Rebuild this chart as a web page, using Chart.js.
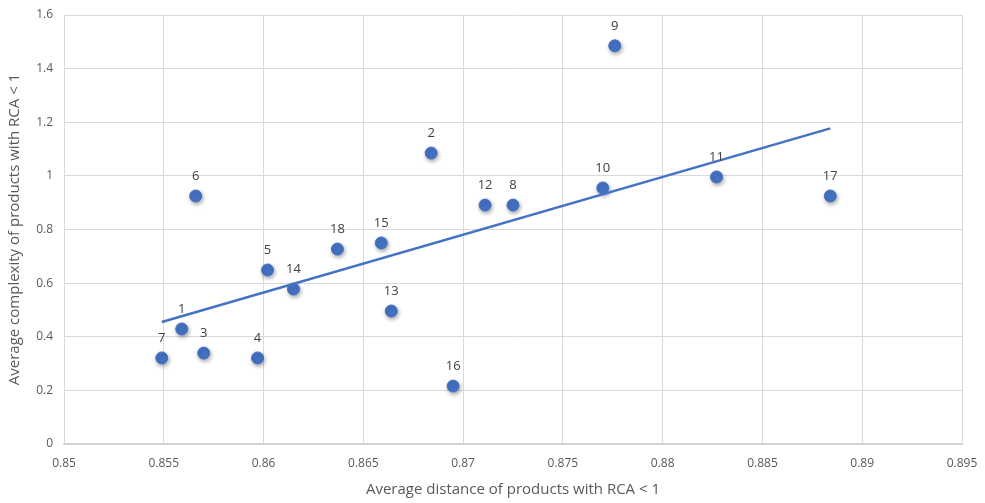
<!DOCTYPE html>
<html>
<head>
<meta charset="utf-8">
<script src="https://cdn.jsdelivr.net/npm/chart.js@4/dist/chart.umd.min.js"></script>
<style>
  html, body { margin: 0; padding: 0; background: #fff; }
  #wrap { width: 985px; height: 503px; }
</style>
</head>
<body>
<div id="wrap"><canvas id="chart"></canvas></div>
<script>
// point ids, x = avg distance, y = avg complexity
var pointLabels = ['1', '2', '3', '4', '5', '6', '7', '8', '9', '10', '11', '12', '13', '14', '15', '16', '17', '18'];
var distX = [0.8559, 0.8684, 0.8570, 0.8597, 0.8602, 0.8566, 0.8549, 0.8725, 0.8776, 0.8770, 0.8827, 0.8711, 0.8664, 0.8615, 0.8659, 0.8695, 0.8884, 0.8637];
var complexY = [0.429, 1.085, 0.339, 0.321, 0.649, 0.925, 0.321, 0.891, 1.485, 0.955, 0.996, 0.891, 0.496, 0.578, 0.750, 0.216, 0.925, 0.727];

// linear trendline end points
var trendX = [0.8549, 0.8884];
var trendY = [0.455, 1.177];

var blue = '#4472C4';
var textGray = '#595959';

var points = distX.map(function (x, i) { return { x: x, y: complexY[i] }; });
var trend = trendX.map(function (x, i) { return { x: x, y: trendY[i] }; });

// draws the numbers above each point
var pointLabelPlugin = {
    id: 'pointLabels',
    afterDatasetsDraw: function (chart) {
        var meta = chart.getDatasetMeta(1);
        var ctx = chart.ctx;
        ctx.save();
        ctx.font = '13px "Open Sans", sans-serif';
        ctx.fillStyle = '#404040';
        ctx.textAlign = 'center';
        ctx.textBaseline = 'middle';
        meta.data.forEach(function (el, i) {
            ctx.fillText(pointLabels[i], el.x, el.y - 20);
        });
        ctx.restore();
    }
};

var shadowPlugin = {
    id: 'pointShadow',
    beforeDatasetDraw: function (chart, args) {
        if (args.index !== 1) return;
        var ctx = chart.ctx;
        ctx.save();
        ctx.shadowColor = 'rgba(0,0,0,0.35)';
        ctx.shadowBlur = 4;
        ctx.shadowOffsetX = 1;
        ctx.shadowOffsetY = 2;
    },
    afterDatasetDraw: function (chart, args) {
        if (args.index !== 1) return;
        chart.ctx.restore();
    }
};

new Chart(document.getElementById('chart'), {
    type: 'scatter',
    data: {
        datasets: [
            {
                type: 'line',
                data: trend,
                borderColor: blue,
                borderWidth: 2.5,
                pointRadius: 0,
                fill: false
            },
            {
                data: points,
                backgroundColor: blue,
                borderColor: blue,
                pointRadius: 6,
                pointHoverRadius: 6
            }
        ]
    },
    options: {
        responsive: true,
        maintainAspectRatio: false,
        animation: false,
        layout: { padding: { top: 15, right: 23, left: 0, bottom: 0 } },
        plugins: {
            legend: { display: false },
            tooltip: { enabled: false }
        },
        scales: {
            x: {
                type: 'linear',
                min: 0.85,
                max: 0.895,
                ticks: {
                    stepSize: 0.005,
                    color: textGray,
                    padding: 12,
                    font: { family: '"Open Sans", sans-serif', size: 12 },
                    callback: function (v) { return String(+v.toFixed(3)); }
                },
                grid: { color: '#d9d9d9', tickLength: 0 },
                border: { color: '#d0d0d0', width: 1.5 },
                title: {
                    display: true,
                    text: 'Average distance of products with RCA < 1',
                    color: textGray,
                    font: { family: '"Open Sans", sans-serif', size: 15 },
                    padding: { top: 6 }
                },
                afterFit: function (scale) {
                    scale.height = 59;
                    scale.paddingRight = 0;
                    scale.paddingLeft = 0;
                }
            },
            y: {
                min: 0,
                max: 1.6,
                ticks: {
                    stepSize: 0.2,
                    color: textGray,
                    padding: 11,
                    font: { family: '"Open Sans", sans-serif', size: 12 },
                    callback: function (v) { return String(+v.toFixed(1)); }
                },
                grid: { color: '#d9d9d9', tickLength: 0 },
                border: { color: '#d9d9d9' },
                title: {
                    display: true,
                    text: 'Average complexity of products with RCA < 1',
                    color: textGray,
                    font: { family: '"Open Sans", sans-serif', size: 15 },
                    padding: { top: 6, bottom: 4 }
                },
                afterFit: function (scale) {
                    scale.width = 64;
                    scale.paddingTop = 0;
                    scale.paddingBottom = 0;
                }
            }
        }
    },
    plugins: [pointLabelPlugin, shadowPlugin]
});
</script>
</body>
</html>
